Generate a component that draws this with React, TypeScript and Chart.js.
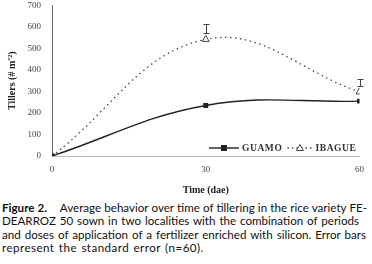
import React, { useEffect, useRef } from "react";
import { Chart, registerables } from "chart.js";

Chart.register(...registerables);

const xValues = [0, 30, 60];
const guamoValues = [0, 235, 255];
const ibagueValues = [0, 542, 298];
const ibagueErrPlus = [0, 70, 58];
const seriesLabels = ["GUAMO", "IBAGUE"];
const yTickStep = 100;
const xTickStep = 30;

const SERIF = "'Liberation Serif', 'Times New Roman', serif";

const errorBarPlugin = {
  id: "errorBars",
  afterDatasetsDraw(chart: any) {
    const { ctx, scales } = chart;
    const ds = chart.data.datasets[1];
    ctx.save();
    ctx.strokeStyle = "#444";
    ctx.lineWidth = 1;
    ds.data.forEach((p: any, i: number) => {
      const e = ibagueErrPlus[i];
      if (!e) return;
      const x = Math.round(scales.x.getPixelForValue(p.x)) + 0.5;
      const yTop = Math.round(scales.y.getPixelForValue(p.y + e)) + 0.5;
      const yBot = Math.round(scales.y.getPixelForValue(p.y)) - 6 + 0.5;
      ctx.beginPath();
      ctx.moveTo(x, yTop);
      ctx.lineTo(x, yBot);
      ctx.moveTo(x - 3, yTop);
      ctx.lineTo(x + 3, yTop);
      ctx.moveTo(x - 3, yBot);
      ctx.lineTo(x + 3, yBot);
      ctx.stroke();
    });
    ctx.restore();
  },
};

const legendPlugin = {
  id: "customLegend",
  afterDraw(chart: any) {
    const { ctx, chartArea } = chart;
    ctx.save();
    ctx.font = `bold 9.5px ${SERIF}`;
    try {
      (ctx as any).letterSpacing = "0.6px";
    } catch (e) {}
    ctx.textBaseline = "middle";
    const y = chartArea.bottom - 8;
    const w1 = ctx.measureText(seriesLabels[0]).width;
    const w2 = ctx.measureText(seriesLabels[1]).width;
    const xr = chartArea.right - 3;
    const x2Text = xr - w2;
    const sym2End = x2Text - 3;
    const sym2Start = sym2End - 25;
    const x1TextEnd = sym2Start - 5;
    const x1Text = x1TextEnd - w1;
    const sym1End = x1Text - 3;
    const sym1Start = sym1End - 30;
    ctx.strokeStyle = "#222";
    ctx.lineWidth = 1.4;
    ctx.beginPath();
    ctx.moveTo(sym1Start, y);
    ctx.lineTo(sym1End, y);
    ctx.stroke();
    ctx.fillStyle = "#222";
    const c1 = (sym1Start + sym1End) / 2;
    ctx.fillRect(c1 - 3, y - 3, 6, 6);
    ctx.fillStyle = "#333";
    ctx.fillText(seriesLabels[0], x1Text, y + 0.5);
    ctx.strokeStyle = "#444";
    ctx.lineWidth = 1.3;
    ctx.setLineDash([1.5, 3]);
    ctx.beginPath();
    ctx.moveTo(sym2Start, y);
    ctx.lineTo(sym2End, y);
    ctx.stroke();
    ctx.setLineDash([]);
    const c2 = (sym2Start + sym2End) / 2;
    ctx.fillStyle = "#fff";
    ctx.lineWidth = 1;
    ctx.beginPath();
    ctx.moveTo(c2, y - 3.5);
    ctx.lineTo(c2 + 3.5, y + 2.5);
    ctx.lineTo(c2 - 3.5, y + 2.5);
    ctx.closePath();
    ctx.fill();
    ctx.stroke();
    ctx.fillStyle = "#333";
    ctx.fillText(seriesLabels[1], x2Text, y + 0.5);
    ctx.restore();
  },
};

function ChartView() {
  const ref = useRef<HTMLCanvasElement | null>(null);
  useEffect(() => {
    if (!ref.current) return;
    const chart = new Chart(ref.current, {
      type: "line",
      data: {
        datasets: [
          {
            label: seriesLabels[0],
            data: xValues.map((x, i) => ({ x, y: guamoValues[i] })),
            borderColor: "#222",
            borderWidth: 1.4,
            backgroundColor: "#222",
            pointStyle: "rect",
            pointRadius: 3.5,
            pointBorderWidth: 0,
            tension: 0.4,
            fill: false,
          },
          {
            label: seriesLabels[1],
            data: xValues.map((x, i) => ({ x, y: ibagueValues[i] })),
            borderColor: "#444",
            borderWidth: 1.3,
            borderDash: [1.5, 3.5],
            backgroundColor: "#fff",
            pointStyle: "triangle",
            pointRadius: 4,
            pointBorderWidth: 1,
            pointBorderColor: "#444",
            tension: 0.4,
            fill: false,
          },
        ],
      },
      options: {
        animation: false,
        responsive: false,
        devicePixelRatio: 1,
        layout: { padding: { top: 0, right: 12, left: 0, bottom: 0 } },
        plugins: { legend: { display: false }, tooltip: { enabled: false } },
        scales: {
          x: {
            type: "linear",
            min: 0,
            max: 60,
            ticks: { stepSize: xTickStep, color: "#444", font: { family: SERIF, size: 9 }, padding: 8 },
            grid: { display: false, drawTicks: false },
            border: { color: "#b5b5b5", width: 1 },
            title: {
              display: true,
              text: "Time (dae)",
              color: "#222",
              font: { family: SERIF, size: 10, weight: "bold" },
              padding: { top: 0, bottom: 2 },
            },
            afterFit: (s: any) => {
              s.height = 42;
            },
          },
          y: {
            min: 0,
            max: 700,
            ticks: { stepSize: yTickStep, color: "#444", font: { family: SERIF, size: 9 }, padding: 11 },
            grid: { display: false, drawTicks: false },
            border: { color: "#666", width: 1 },
            title: {
              display: true,
              text: "Tillers (# m⁻²)",
              color: "#222",
              font: { family: SERIF, size: 10, weight: "bold" },
              padding: { top: 6, bottom: 0 },
            },
            afterFit: (s: any) => {
              s.width = 52;
            },
          },
        },
      },
      plugins: [errorBarPlugin, legendPlugin],
    });
    return () => chart.destroy();
  }, []);
  return <canvas ref={ref} width={372} height={209} style={{ display: "block", marginTop: -11 }} />;
}

const lineStyle = (w: number): React.CSSProperties => ({
  width: w,
  height: 13.4,
  textAlign: "justify",
  textAlignLast: "justify" as any,
  overflow: "hidden",
});

export default function App() {
  return (
    <div style={{ position: "absolute", left: 0, top: 0, width: 372, height: 264, background: "#fff", overflow: "hidden" }}>
      <ChartView />
      <div
        style={{
          position: "absolute",
          left: 2,
          top: 201,
          fontFamily: "Lato, 'Noto Sans', sans-serif",
          fontSize: 11.6,
          lineHeight: "13.4px",
          color: "#111",
        }}
      >
        <div style={lineStyle(365)}>
          <b>Figure 2.</b>
          <span style={{ display: "inline-block", width: 10 }} /> Average behavior over time of tillering in the rice variety FE-
        </div>
        <div style={lineStyle(357)}>DEARROZ 50 sown in two localities with the combination of periods</div>
        <div style={lineStyle(364)}>and doses of application of a fertilizer enriched with silicon. Error bars</div>
        <div style={{ height: 13.4, whiteSpace: "nowrap", letterSpacing: "0.45px", wordSpacing: "1px" }}>
          represent the standard error (n=60).
        </div>
      </div>
    </div>
  );
}
